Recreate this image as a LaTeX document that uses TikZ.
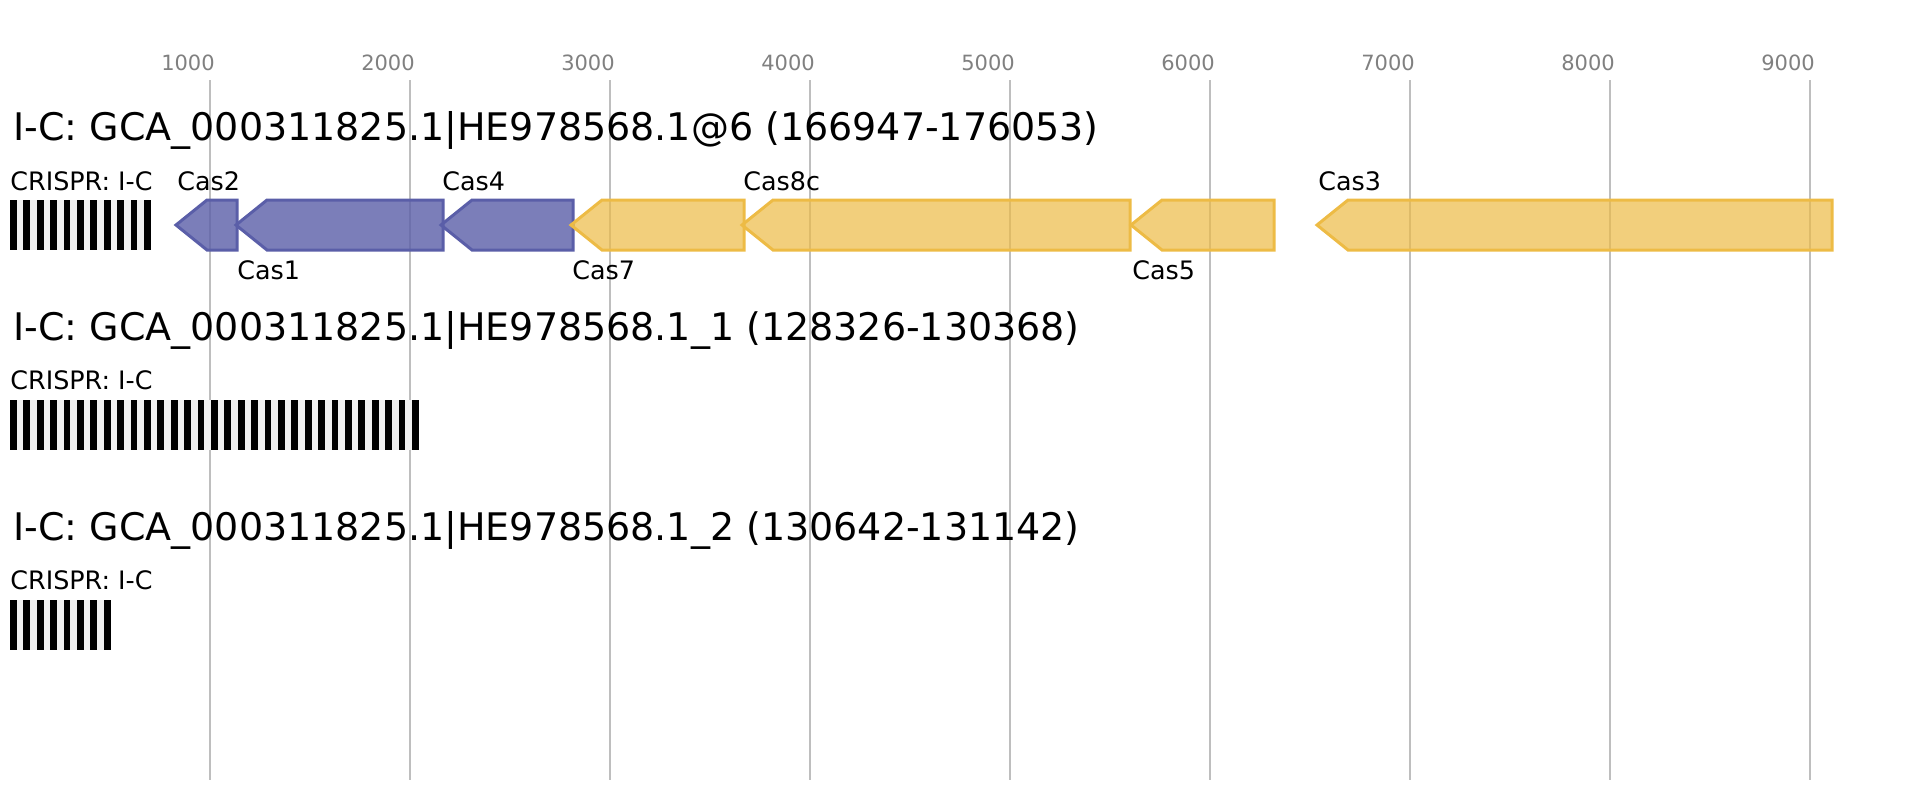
\documentclass[tikz,border=0pt]{standalone}
\usepackage{fontspec}
\setmainfont{DejaVu Sans}
\definecolor{gridgray}{RGB}{190,190,190}
\definecolor{tickgray}{RGB}{128,128,128}
\definecolor{casblue}{RGB}{90,94,168}
\definecolor{casyellow}{RGB}{237,187,69}
\definecolor{spacergray}{RGB}{240,240,240}
\tikzset{
  gridline/.style={draw=gridgray, line width=0.65pt},
  ticklabel/.style={anchor=base, inner sep=0pt, text=tickgray, font=\fontsize{10.5pt}{12pt}\selectfont},
  titlelabel/.style={anchor=base west, inner sep=0pt, font=\fontsize{19pt}{22pt}\selectfont},
  genelabel/.style={anchor=base west, inner sep=0pt, font=\fontsize{12.7pt}{15pt}\selectfont},
  bluegene/.style={draw=casblue, fill=casblue, fill opacity=0.8, line width=1.5pt, line join=miter},
  yellowgene/.style={draw=casyellow, fill=casyellow, fill opacity=0.7, line width=1.5pt, line join=miter},
  spacerbg/.style={fill=spacergray, draw=none},
  repeatbar/.style={fill=black, draw=none}
}
\newcommand{\genearrow}[4]{% style, tip x, right x, row top y
  \draw[#1] (#3,#4) -- (#2+31,#4) -- (#2,#4+25) -- (#2+31,#4+50) -- (#3,#4+50) -- cycle;}
\newcommand{\crisprarray}[2]{% number of bars, top y
  \fill[spacerbg] (10,#2) rectangle ({10+(#1-1)*13.4+6.7},#2+50);
  \foreach \k in {1,...,#1} {\fill[repeatbar] ({10+(\k-1)*13.4},#2) rectangle ({10+(\k-1)*13.4+6.7},#2+50);}}
\begin{document}
\begin{tikzpicture}[x=0.5pt,y=-0.5pt]
\useasboundingbox (0,0) rectangle (1921,800);
% grid
\foreach \i in {1,...,9} {
  \draw[gridline] ({10+200*\i},80) -- ({10+200*\i},780);
  \node[ticklabel] (tick\i) at ({10+200*\i-22},70) {\i000};
}
% row 1
\node[titlelabel] (title1) at (13,140) {I-C: GCA\_000311825.1|HE978568.1@6 (166947-176053)};
\node[genelabel] (crisprlabel1) at (10,190) {CRISPR: I-C};
\crisprarray{11}{200}
\genearrow{bluegene}{176}{237}{200}
\genearrow{bluegene}{236}{443}{200}
\genearrow{bluegene}{441}{573}{200}
\genearrow{yellowgene}{571}{744}{200}
\genearrow{yellowgene}{742}{1130}{200}
\genearrow{yellowgene}{1131}{1274}{200}
\genearrow{yellowgene}{1317}{1832}{200}
\node[genelabel] (cas2) at (177,190) {Cas2};
\node[genelabel] (cas1) at (237,279) {Cas1};
\node[genelabel] (cas4) at (442,190) {Cas4};
\node[genelabel] (cas7) at (572,279) {Cas7};
\node[genelabel] (cas8c) at (743,190) {Cas8c};
\node[genelabel] (cas5) at (1132,279) {Cas5};
\node[genelabel] (cas3) at (1318,190) {Cas3};
% row 2
\node[titlelabel] (title2) at (13,340) {I-C: GCA\_000311825.1|HE978568.1\_1 (128326-130368)};
\node[genelabel] (crisprlabel2) at (10,389) {CRISPR: I-C};
\crisprarray{31}{400}
% row 3
\node[titlelabel] (title3) at (13,540) {I-C: GCA\_000311825.1|HE978568.1\_2 (130642-131142)};
\node[genelabel] (crisprlabel3) at (10,589) {CRISPR: I-C};
\crisprarray{8}{600}
\end{tikzpicture}
\end{document}
